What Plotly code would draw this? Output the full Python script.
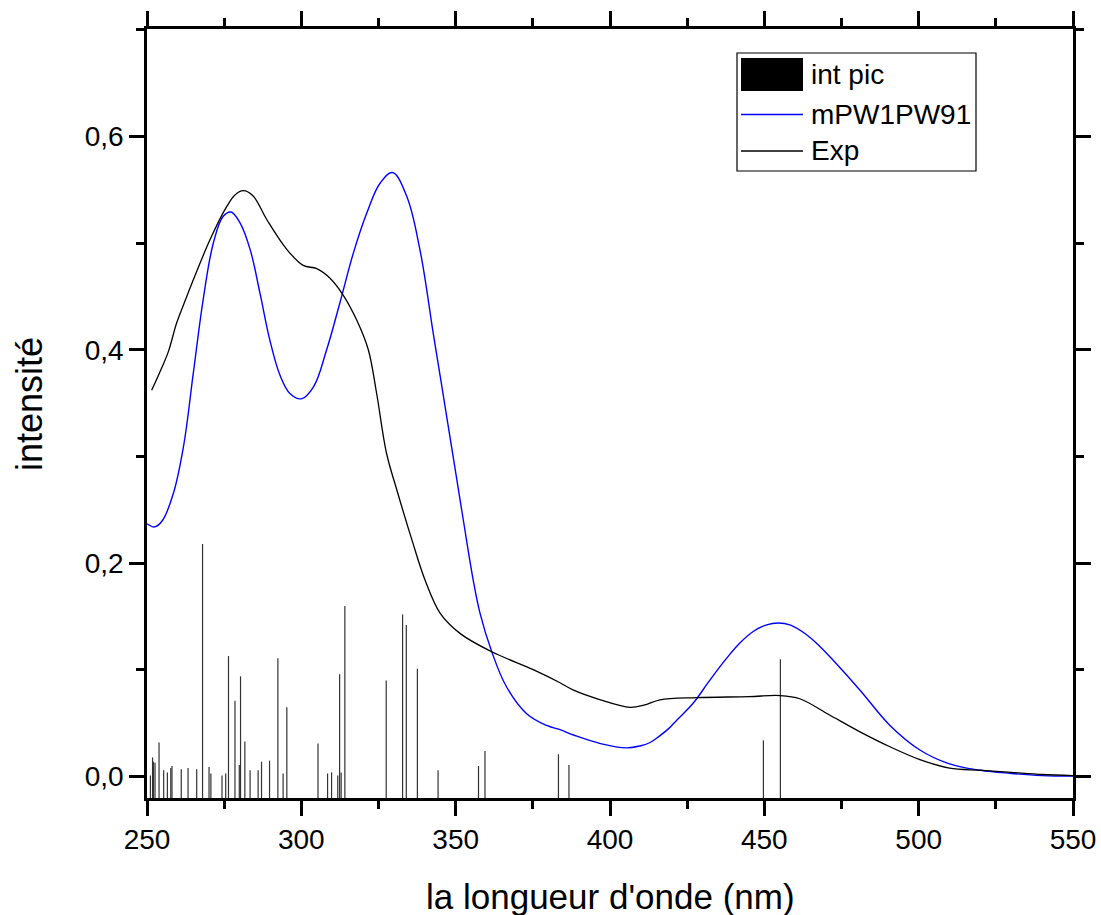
import plotly.graph_objects as go

# Calculated transitions (wavelength in nm, oscillator intensity)
stick_nm = [251.1, 251.8, 252.1, 252.6, 253.9, 255.4, 256.6, 257.7, 258.1, 261.1,
            263.3, 266.1, 268.0, 270.1, 270.7, 274.3, 275.5, 276.4, 278.5, 279.9,
            280.3, 281.7, 283.4, 286.0, 287.1, 289.7, 292.4, 294.1, 295.3, 305.4,
            308.5, 309.8, 311.8, 312.4, 312.9, 314.1, 327.5, 332.8, 334.0, 337.6,
            344.3, 357.4, 359.5, 383.3, 386.7, 449.7, 455.2]
stick_int = [0.001, 0.018, 0.014, 0.013, 0.032, 0.006, 0.004, 0.008, 0.010, 0.007,
             0.008, 0.007, 0.218, 0.009, 0.003, 0.001, 0.003, 0.113, 0.071, 0.011,
             0.094, 0.033, 0.006, 0.006, 0.014, 0.015, 0.111, 0.003, 0.065, 0.031,
             0.003, 0.004, 0.001, 0.096, 0.004, 0.160, 0.090, 0.152, 0.142, 0.101,
             0.006, 0.010, 0.024, 0.021, 0.011, 0.034, 0.110]

# Broadened theoretical spectrum (mPW1PW91)
calc_nm = [250, 252.5, 255, 258.5, 261.8, 265, 268.2, 271.5, 274.7, 277.2,
           280.1, 283.4, 286.6, 289.8, 293.1, 296.3, 300, 303.9, 308.2, 312.5,
           316.8, 321.2, 325.5, 329.5, 334.1, 338.4, 342.7, 345, 347.5, 350,
           352.5, 355.7, 357.9, 361.7, 366.5, 373, 379.5, 383.8, 388.2, 396.9,
           405.4, 410, 413, 416, 419, 422, 427, 432, 437.8, 442, 446.4, 450.5, 454.5,
           458.5, 463.7, 468, 472.3, 481, 490.7, 500.4, 510, 520, 530, 540, 550]
calc_int = [0.237, 0.234, 0.240, 0.265, 0.309, 0.378, 0.447, 0.500, 0.525, 0.529,
            0.519, 0.494, 0.453, 0.409, 0.376, 0.359, 0.354, 0.365, 0.400, 0.444,
            0.490, 0.528, 0.556, 0.566, 0.544, 0.494, 0.416, 0.375, 0.330, 0.285,
            0.240, 0.184, 0.153, 0.117, 0.084, 0.059, 0.048, 0.044, 0.039, 0.031,
            0.027, 0.029, 0.032, 0.038, 0.045, 0.054, 0.069, 0.089, 0.111, 0.125,
            0.136, 0.142, 0.144, 0.142, 0.133, 0.122, 0.109, 0.081, 0.048, 0.025,
            0.012, 0.006, 0.003, 0.001, 0.0005]

# Experimental spectrum
exp_nm = [251.5, 254, 256.9, 259.6, 262.5, 265.5, 270.4, 275.8, 278.5, 281.2,
          284.4, 288.8, 295.3, 300.6, 305, 309.3, 313.6, 317.9, 321.7, 324.4,
          327.6, 330.9, 335.7, 340.1, 345, 351.5, 361.7, 375.3, 383.8, 388.2,
          396.9, 406.5, 411, 416.2, 428.1, 445, 455.1, 461.5, 471, 481,
          490.7, 500.4, 510, 520, 530, 540, 550]
exp_int = [0.362, 0.378, 0.398, 0.425, 0.447, 0.469, 0.503, 0.534, 0.545, 0.549,
           0.544, 0.522, 0.494, 0.479, 0.476, 0.467, 0.451, 0.428, 0.400, 0.359,
           0.303, 0.269, 0.223, 0.184, 0.153, 0.134, 0.117, 0.100, 0.088, 0.081,
           0.072, 0.065, 0.067, 0.072, 0.074, 0.075, 0.076, 0.073, 0.058, 0.042,
           0.028, 0.016, 0.008, 0.006, 0.004, 0.002, 0.001]

x_ticks = [250, 300, 350, 400, 450, 500, 550]
y_ticks = [0.0, 0.2, 0.4, 0.6]
legend_labels = ["int pic", "mPW1PW91", "Exp"]

X_RANGE = [250, 550]
Y_RANGE = [-0.02, 0.7005]

FONT = "Liberation Sans, Arial, sans-serif"
W, H = 1101, 915
ML, MR, MT, MB = 147, 28, 29, 117
PW, PH = W - ML - MR, H - MT - MB


def px(xp):
    return (xp - ML) / PW


def py(yp):
    return (H - MB - yp) / PH


# Sticks drop from the bottom of the axis up to each intensity
sx, sy = [], []
for nm, v in zip(stick_nm, stick_int):
    sx += [nm, nm, None]
    sy += [Y_RANGE[0], v, None]

fig = go.Figure()
fig.add_trace(go.Scatter(x=sx, y=sy, mode="lines",
                         line=dict(color="#333333", width=1.2),
                         name=legend_labels[0], showlegend=False))
fig.add_trace(go.Scatter(x=calc_nm, y=calc_int, mode="lines",
                         line=dict(color="#0000ff", width=1.4, shape="spline", smoothing=1.1),
                         name=legend_labels[1], showlegend=False))
fig.add_trace(go.Scatter(x=exp_nm, y=exp_int, mode="lines",
                         line=dict(color="#000000", width=1.3, shape="spline", smoothing=1.0),
                         name=legend_labels[2], showlegend=False))

axis_common = dict(
    showline=True, linecolor="black", linewidth=2.5, mirror="allticks",
    ticks="outside", ticklen=15, tickwidth=2.5, tickcolor="black",
    showgrid=False, zeroline=False, automargin=False,
    tickfont=dict(family=FONT, size=28, color="black"),
)

fig.update_xaxes(range=X_RANGE, tickvals=x_ticks,
                 minor=dict(ticks="outside", ticklen=8, tickwidth=2.5,
                            tickcolor="black", dtick=25, tick0=250),
                 **axis_common)
fig.update_yaxes(range=Y_RANGE, tickvals=y_ticks, tickformat=".1f",
                 minor=dict(ticks="outside", ticklen=8, tickwidth=2.5,
                            tickcolor="black", dtick=0.1, tick0=0),
                 **axis_common)

# Legend box drawn in paper coordinates
shapes = [
    dict(type="rect", xref="paper", yref="paper",
         x0=px(737), x1=px(976), y0=py(171), y1=py(53),
         line=dict(color="black", width=1.2), fillcolor="white", layer="above"),
    dict(type="rect", xref="paper", yref="paper",
         x0=px(741), x1=px(803), y0=py(91), y1=py(58),
         line=dict(width=0), fillcolor="black", layer="above"),
    dict(type="line", xref="paper", yref="paper",
         x0=px(741), x1=px(803), y0=py(114.5), y1=py(114.5),
         line=dict(color="#0000ff", width=1.4), layer="above"),
    dict(type="line", xref="paper", yref="paper",
         x0=px(741), x1=px(803), y0=py(151), y1=py(151),
         line=dict(color="black", width=1.3), layer="above"),
]
annotations = []
for label, yc in zip(legend_labels, [75, 114, 151]):
    annotations.append(dict(text=label, xref="paper", yref="paper",
                            x=px(809), y=py(yc), xanchor="left", yanchor="middle",
                            showarrow=False,
                            font=dict(family=FONT, size=28, color="black")))

annotations.append(dict(text="la longueur d'onde (nm)", xref="paper", yref="paper",
                        x=0.5, y=py(896), xanchor="center", yanchor="middle",
                        showarrow=False,
                        font=dict(family=FONT, size=35, color="black")))
annotations.append(dict(text="intensité", xref="paper", yref="paper",
                        x=px(29), y=py(404), xanchor="center", yanchor="middle",
                        textangle=-90, showarrow=False,
                        font=dict(family=FONT, size=36, color="black")))

fig.update_layout(
    width=W, height=H,
    margin=dict(l=ML, r=MR, t=MT, b=MB),
    paper_bgcolor="white", plot_bgcolor="white",
    separators=", ",
    showlegend=False,
    shapes=shapes, annotations=annotations,
)

fig.write_html("out.html")
